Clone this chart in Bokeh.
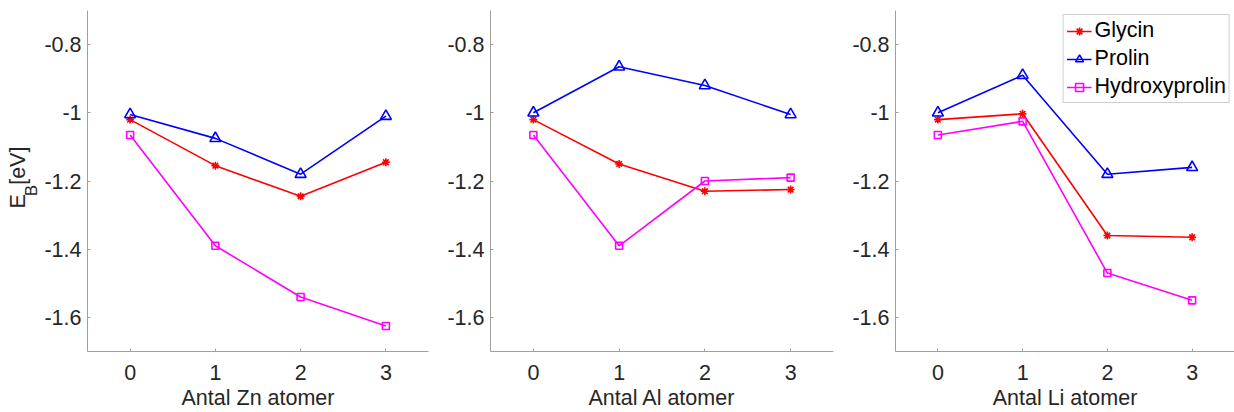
import math
from bokeh.plotting import figure
from bokeh.layouts import row
from bokeh.models import Range1d, FixedTicker, Legend, LegendItem
from bokeh.core.properties import value
from bokeh.embed import file_html
from bokeh.resources import INLINE

x_vals = [0, 1, 2, 3]
series_names = ["Glycin", "Prolin", "Hydroxyprolin"]

zn_glycin = [-1.02, -1.155, -1.245, -1.145]
zn_prolin = [-1.005, -1.075, -1.18, -1.01]
zn_hydroxy = [-1.065, -1.39, -1.54, -1.625]

al_glycin = [-1.02, -1.15, -1.23, -1.225]
al_prolin = [-1.0, -0.865, -0.92, -1.005]
al_hydroxy = [-1.065, -1.39, -1.2, -1.19]

li_glycin = [-1.02, -1.003, -1.36, -1.365]
li_prolin = [-1.0, -0.89, -1.18, -1.16]
li_hydroxy = [-1.065, -1.025, -1.47, -1.55]

x_labels = ["Antal Zn atomer", "Antal Al atomer", "Antal Li atomer"]
y_label_parts = ["E", "B", "[eV]"]
y_ticks = [-1.6, -1.4, -1.2, -1.0, -0.8]
y_tick_labels = {-1.6: "-1.6", -1.4: "-1.4", -1.2: "-1.2", -1.0: "-1", -0.8: "-0.8"}

colors = ["#FF0000", "#0000FF", "#FF00FF"]
markers = ["asterisk", "triangle", "square"]
msizes = [8, 11, 7]

FONT = "Liberation Sans"
FS = "21.5px"
TXT = "#262626"
AX = "#a0a0a0"
H = 412

# --- narrow figure holding the y-axis label (E with subscript B) ---
lab = figure(width=40, height=H, output_backend="svg", toolbar_location=None,
             x_range=Range1d(0, 40), y_range=Range1d(0, H),
             min_border_left=0, min_border_right=0, min_border_top=0, min_border_bottom=0,
             x_axis_location=None, y_axis_location=None)
lab.outline_line_color = None
lab.xgrid.visible = False
lab.ygrid.visible = False
lab.border_fill_color = "white"
lab.background_fill_color = "white"
common = dict(angle=math.pi / 2, text_font=value(FONT), text_color=TXT,
              text_align="center", text_baseline="middle")
lab.text(x=[17.5], y=[H - 230.5], text=[y_label_parts[0]], text_font_size=value(FS), **common)
lab.text(x=[30.5], y=[H - 217.5], text=[y_label_parts[1]], text_font_size=value("17px"), **common)
lab.text(x=[17.5], y=[H - 187.5], text=[y_label_parts[2]], text_font_size=value(FS), **common)

panels = [
    (x_labels[0], [zn_glycin, zn_prolin, zn_hydroxy]),
    (x_labels[1], [al_glycin, al_prolin, al_hydroxy]),
    (x_labels[2], [li_glycin, li_prolin, li_hydroxy]),
]

widths = [390, 404, 400]
borders_left = [47, 60, 61]
borders_right = [2, 1, 0]

figs = [lab]
for i, (xl, data) in enumerate(panels):
    p = figure(width=widths[i], height=H, output_backend="svg", toolbar_location=None,
               x_range=Range1d(-0.5, 3.5), y_range=Range1d(-1.7, -0.7),
               min_border_left=borders_left[i], min_border_right=borders_right[i],
               min_border_top=10, min_border_bottom=61)
    p.outline_line_color = None
    p.xgrid.visible = False
    p.ygrid.visible = False
    p.background_fill_color = "white"
    p.border_fill_color = "white"
    for ax in (p.xaxis[0], p.yaxis[0]):
        ax.axis_line_color = AX
        ax.major_tick_line_color = AX
        ax.major_tick_in = 3
        ax.major_tick_out = 0
        ax.minor_tick_line_color = None
        ax.major_label_text_font = FONT
        ax.major_label_text_font_size = FS
        ax.major_label_text_color = TXT
        ax.axis_line_width = 1
    p.xaxis.ticker = FixedTicker(ticks=x_vals)
    p.yaxis.ticker = FixedTicker(ticks=y_ticks)
    p.yaxis.major_label_overrides = y_tick_labels
    p.xaxis.major_label_standoff = 13
    p.yaxis.major_label_standoff = 6
    p.xaxis.axis_label = xl
    p.xaxis.axis_label_text_font = FONT
    p.xaxis.axis_label_text_font_size = FS
    p.xaxis.axis_label_text_font_style = "normal"
    p.xaxis.axis_label_text_color = TXT
    p.xaxis.axis_label_standoff = 3

    items = []
    for k, ys in enumerate(data):
        l = p.line(x_vals, ys, line_color=colors[k], line_width=1.6)
        s = p.scatter(x_vals, ys, marker=markers[k], size=msizes[k], line_color=colors[k],
                      fill_color=None if markers[k] != "asterisk" else colors[k], line_width=1.6)
        items.append(LegendItem(label=series_names[k], renderers=[l, s]))

    if i == 2:
        legend = Legend(items=items, location="top_right")
        legend.label_text_font = FONT
        legend.label_text_font_size = FS
        legend.label_text_color = "black"
        legend.border_line_color = "#a0a0a0"
        legend.border_line_width = 1
        legend.background_fill_color = "white"
        legend.background_fill_alpha = 1
        legend.glyph_width = 25
        legend.glyph_height = 20
        legend.label_height = 24
        legend.spacing = 3
        legend.padding = 3
        legend.margin = 4
        legend.label_standoff = 3
        p.add_layout(legend)
    figs.append(p)

layout = row(*figs, spacing=0)
open("out.html", "w").write(file_html(layout, INLINE))
